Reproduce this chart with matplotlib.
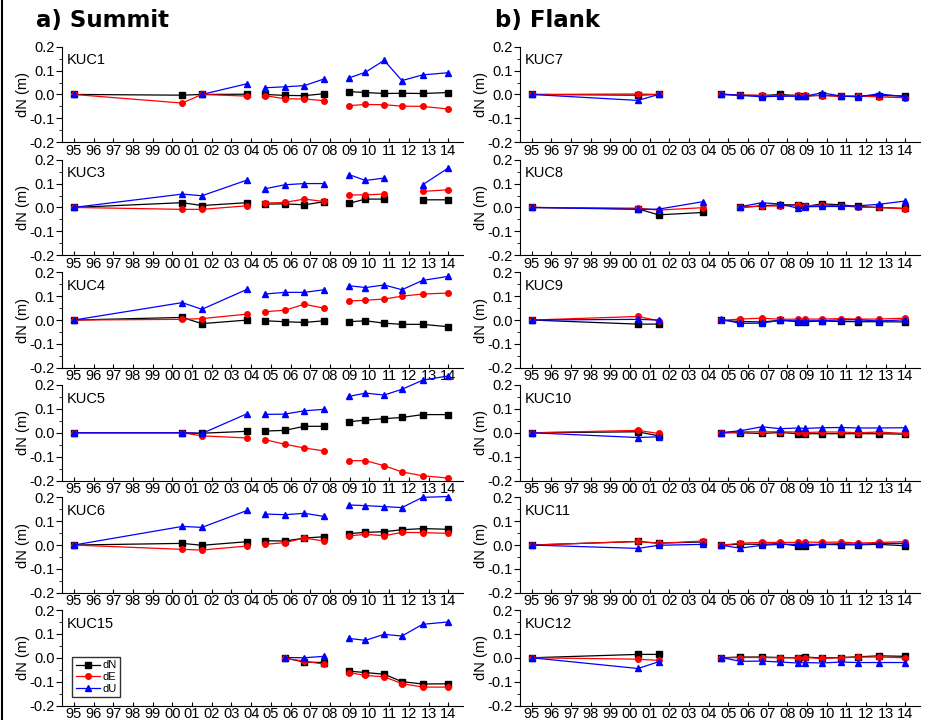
#GPS displacement time series, summit vs flank stations
import numpy as np
import matplotlib
matplotlib.use('Agg')
import matplotlib.pyplot as plt
from matplotlib.lines import Line2D

nan = np.nan
plt.rcParams['font.family'] = ['Liberation Sans', 'DejaVu Sans']

#----------epochs (decimal years)-----------------
t_summit = [1995.0, 2000.5, 2001.5, 2003.8, 2004.7, 2005.7, 2006.7, 2007.7,
            2008.95, 2009.8, 2010.75, 2011.65, 2012.7, 2014.0]
seg_summit = [(0, 4), (4, 8), (8, 14)]

t_flank = [1995.0, 2000.4, 2001.45, 2003.7, 2004.65, 2005.6, 2006.7, 2007.65,
           2008.55, 2008.9, 2009.75, 2010.75, 2011.6, 2012.65, 2014.0]
seg_flank = [(0, 4), (4, 15)]

year_ticks = list(range(1995, 2015))
year_labels = ['95', '96', '97', '98', '99', '00', '01', '02', '03', '04',
               '05', '06', '07', '08', '09', '10', '11', '12', '13', '14']

#----------summit stations-----------------
KUC1_N = [0, -0.003, 0.0, 0.001, 0.0, -0.004, -0.005, 0.003, 0.012, 0.008, 0.004, 0.005, 0.004, 0.008]
KUC1_E = [0, -0.036, 0.0, -0.007, -0.005, -0.018, -0.019, -0.026, -0.047, -0.042, -0.043, -0.049, -0.050, -0.061]
KUC1_U = [0, nan, 0.0, 0.045, 0.028, 0.032, 0.037, 0.065, 0.069, 0.093, 0.143, 0.058, 0.082, 0.091]

KUC3_N = [0, 0.020, 0.008, 0.020, 0.014, 0.015, 0.011, 0.024, 0.017, 0.035, 0.035, nan, 0.032, 0.032]
KUC3_E = [0, -0.008, -0.008, 0.007, 0.018, 0.021, 0.035, 0.025, 0.052, 0.053, 0.056, nan, 0.067, 0.074]
KUC3_U = [0, 0.056, 0.049, 0.115, 0.078, 0.095, 0.100, 0.100, 0.138, 0.113, 0.123, nan, 0.095, 0.165]

KUC4_N = [0, 0.011, -0.015, 0.0, -0.003, -0.007, -0.010, -0.003, -0.007, -0.003, -0.013, -0.018, -0.018, -0.028]
KUC4_E = [0, 0.003, 0.006, 0.025, 0.035, 0.041, 0.066, 0.050, 0.080, 0.083, 0.088, 0.100, 0.109, 0.113]
KUC4_U = [0, 0.073, 0.045, 0.129, 0.109, 0.116, 0.116, 0.127, 0.144, 0.136, 0.147, 0.127, 0.166, 0.183]

KUC5_N = [0, 0.0, -0.002, 0.006, 0.007, 0.010, 0.027, 0.027, 0.046, 0.053, 0.059, 0.064, 0.076, 0.076]
KUC5_E = [0, 0.0, -0.013, -0.022, -0.029, -0.048, -0.064, -0.076, -0.117, -0.117, -0.138, -0.164, -0.180, -0.190]
KUC5_U = [0, 0.0, -0.003, 0.080, 0.077, 0.078, 0.092, 0.098, 0.152, 0.166, 0.158, 0.182, 0.220, 0.238]

KUC6_N = [0, 0.007, -0.001, 0.014, 0.018, 0.017, 0.029, 0.035, 0.048, 0.053, 0.056, 0.064, 0.069, 0.066]
KUC6_E = [0, -0.018, -0.021, -0.004, 0.003, 0.010, 0.029, 0.017, 0.038, 0.045, 0.039, 0.053, 0.052, 0.049]
KUC6_U = [0, 0.078, 0.074, 0.145, 0.130, 0.127, 0.133, 0.120, 0.168, 0.165, 0.161, 0.157, 0.200, 0.203]

KUC15_N = [nan, nan, nan, nan, nan, -0.001, -0.018, -0.020, -0.056, -0.062, -0.069, -0.100, -0.110, -0.109]
KUC15_E = [nan, nan, nan, nan, nan, -0.003, -0.014, -0.027, -0.062, -0.074, -0.080, -0.108, -0.123, -0.123]
KUC15_U = [nan, nan, nan, nan, nan, 0.001, 0.0, 0.006, 0.081, 0.073, 0.098, 0.091, 0.140, 0.150]

#----------flank stations-----------------
KUC7_N = [0, -0.003, 0.0, nan, 0.0, -0.003, -0.005, 0.0, -0.005, -0.008, -0.003, -0.008, -0.007, -0.005, -0.006]
KUC7_E = [0, 0.002, 0.0, nan, 0.0, -0.003, -0.003, -0.007, -0.003, -0.003, -0.005, -0.007, -0.007, -0.010, -0.014]
KUC7_U = [0, -0.025, 0.0, nan, 0.002, -0.004, -0.010, -0.007, -0.008, -0.008, 0.007, -0.007, -0.010, 0.003, -0.010]

KUC8_N = [0, -0.006, -0.031, -0.021, nan, 0.0, 0.007, 0.011, 0.011, 0.004, 0.015, 0.011, 0.004, 0.0, -0.004]
KUC8_E = [0, -0.003, -0.011, -0.001, nan, 0.0, 0.006, 0.006, 0.010, 0.006, 0.010, 0.007, 0.001, 0.0, -0.006]
KUC8_U = [0, -0.008, -0.007, 0.024, nan, 0.003, 0.020, 0.014, -0.003, 0.003, 0.004, 0.004, 0.007, 0.013, 0.027]

KUC9_N = [0, -0.017, -0.017, nan, -0.001, -0.006, -0.008, -0.001, -0.007, -0.007, -0.004, -0.006, -0.007, -0.007, -0.008]
KUC9_E = [0, 0.015, -0.003, nan, -0.001, 0.004, 0.008, 0.003, 0.004, 0.004, 0.004, 0.006, 0.004, 0.004, 0.008]
KUC9_U = [0, 0.003, 0.0, nan, 0.003, -0.014, -0.013, -0.001, -0.004, -0.003, -0.003, 0.001, 0.001, -0.004, 0.001]

KUC10_N = [0, 0.004, -0.013, nan, 0.0, 0.0, -0.003, 0.001, -0.004, -0.004, -0.004, -0.004, -0.004, -0.004, -0.006]
KUC10_E = [0, 0.010, -0.003, nan, -0.001, 0.004, 0.004, 0.004, 0.003, 0.001, 0.003, 0.003, 0.0, 0.003, -0.003]
KUC10_U = [0, -0.020, -0.017, nan, 0.001, 0.008, 0.025, 0.017, 0.020, 0.018, 0.021, 0.022, 0.020, 0.020, 0.021]

KUC11_N = [0, 0.015, 0.008, 0.013, -0.001, 0.004, 0.003, 0.006, -0.004, -0.004, 0.003, 0.001, 0.001, 0.003, -0.003]
KUC11_E = [0, 0.015, 0.007, 0.017, -0.001, 0.008, 0.011, 0.011, 0.011, 0.013, 0.011, 0.013, 0.008, 0.011, 0.014]
KUC11_U = [0, -0.014, -0.001, 0.003, -0.001, -0.013, -0.001, 0.003, 0.003, 0.003, 0.003, 0.006, 0.003, 0.006, 0.007]

KUC12_N = [0, 0.014, 0.014, nan, 0.0, 0.003, 0.003, 0.001, 0.0, 0.003, -0.001, 0.001, 0.004, 0.008, 0.006]
KUC12_E = [0, -0.006, -0.011, nan, -0.001, 0.001, 0.001, 0.0, -0.001, 0.001, -0.003, 0.0, 0.003, 0.003, 0.0]
KUC12_U = [0, -0.045, -0.017, nan, 0.001, -0.015, -0.014, -0.018, -0.022, -0.020, -0.022, -0.018, -0.020, -0.020, -0.020]

summit = [('KUC1', KUC1_N, KUC1_E, KUC1_U), ('KUC3', KUC3_N, KUC3_E, KUC3_U),
          ('KUC4', KUC4_N, KUC4_E, KUC4_U), ('KUC5', KUC5_N, KUC5_E, KUC5_U),
          ('KUC6', KUC6_N, KUC6_E, KUC6_U), ('KUC15', KUC15_N, KUC15_E, KUC15_U)]
flank = [('KUC7', KUC7_N, KUC7_E, KUC7_U), ('KUC8', KUC8_N, KUC8_E, KUC8_U),
         ('KUC9', KUC9_N, KUC9_E, KUC9_U), ('KUC10', KUC10_N, KUC10_E, KUC10_U),
         ('KUC11', KUC11_N, KUC11_E, KUC11_U), ('KUC12', KUC12_N, KUC12_E, KUC12_U)]

styles = [('dN', 'black', 's'), ('dE', 'red', 'o'), ('dU', 'blue', '^')]


def draw_panel(ax, t, segs, name, comps, legend=False):
    t = np.array(t)
    for (lab, col, mk), vals in zip(styles, comps):
        v = np.array(vals, dtype=float)
        for a, b in segs:
            ax.plot(t[a:b], v[a:b], color=col, marker=mk, markersize=4,
                    linewidth=0.9, clip_on=False)
    ax.set_xlim(1994.4, 2014.75)
    ax.set_ylim(-0.2, 0.2)
    ax.set_yticks([-0.2, -0.1, 0.0, 0.1, 0.2])
    ax.set_yticklabels(['-0.2', '-0.1', '0.0', '0.1', '0.2'])
    ax.set_yticks([-0.15, -0.05, 0.05, 0.15], minor=True)
    ax.set_xticks(year_ticks)
    ax.set_xticklabels(year_labels)
    ax.tick_params(axis='y', which='major', direction='out', length=4, labelsize=10.5, pad=1)
    ax.tick_params(axis='y', which='minor', direction='out', length=2)
    ax.tick_params(axis='x', direction='in', length=3, labelsize=10.5, pad=1)
    for s in ['top', 'right']:
        ax.spines[s].set_visible(False)
    ax.set_ylabel('dN (m)', fontsize=10.5, labelpad=0)
    ax.text(0.012, 0.93, name, transform=ax.transAxes, va='top', ha='left', fontsize=10.5)
    if legend:
        handles = [Line2D([], [], color=c, marker=m, markersize=4, linewidth=0.9, label=l)
                   for l, c, m in styles]
        ax.legend(handles=handles, loc='lower left', bbox_to_anchor=(0.012, 0.03),
                  fontsize=8, frameon=True, fancybox=False, edgecolor='black',
                  handlelength=2.2, handletextpad=0.2, borderpad=0.3, labelspacing=0.15)


fig = plt.figure(figsize=(9.25, 7.2), dpi=100)
W, H = 925.0, 720.0
tops = [46.7, 159.7, 272.3, 385.0, 497.3, 610.0]
ph = 95.5

for i, top in enumerate(tops):
    axl = fig.add_axes([62 / W, 1 - (top + ph) / H, 401 / W, ph / H])
    name, n, e, u = summit[i]
    draw_panel(axl, t_summit, seg_summit, name, [n, e, u], legend=(i == 5))
    axr = fig.add_axes([520 / W, 1 - (top + ph) / H, 400 / W, ph / H])
    name, n, e, u = flank[i]
    draw_panel(axr, t_flank, seg_flank, name, [n, e, u])

fig.text(36 / W, 1 - 9 / H, 'a) Summit', family='DejaVu Sans', fontweight='heavy',
         fontsize=16.5, va='top', ha='left')
fig.text(495 / W, 1 - 9 / H, 'b) Flank', family='DejaVu Sans', fontweight='heavy',
         fontsize=16.5, va='top', ha='left')

# thin frame line on the left edge
fig.add_artist(Line2D([2 / W, 2 / W], [0, 1], color='black', linewidth=1.5))

plt.savefig('out.png', dpi=100)
